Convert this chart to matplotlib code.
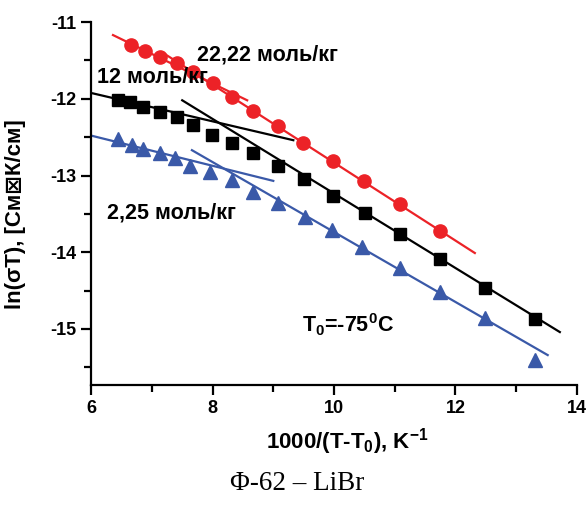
import matplotlib
matplotlib.use('Agg')
import matplotlib.pyplot as plt

plt.rcParams['font.family'] = ['Liberation Sans', 'DejaVu Sans']
plt.rcParams['axes.unicode_minus'] = False
plt.rcParams['mathtext.fontset'] = 'custom'
plt.rcParams['mathtext.rm'] = 'Liberation Sans:bold'
plt.rcParams['mathtext.it'] = 'Liberation Sans:bold'
plt.rcParams['mathtext.bf'] = 'Liberation Sans:bold'

# 22,22 mol/kg
x_red = [6.66, 6.89, 7.14, 7.42, 7.68, 8.01, 8.32, 8.67, 9.08, 9.49, 9.98, 10.49, 11.09, 11.74]
y_red = [-11.30, -11.38, -11.46, -11.53, -11.65, -11.79, -11.98, -12.16, -12.36, -12.58,
         -12.81, -13.07, -13.37, -13.72]

# 12 mol/kg
x_black = [6.44, 6.64, 6.86, 7.14, 7.42, 7.68, 7.99, 8.32, 8.67, 9.08, 9.51, 9.98,
           10.51, 11.09, 11.74, 12.49, 13.31]
y_black = [-12.02, -12.04, -12.11, -12.17, -12.24, -12.34, -12.47, -12.58, -12.71, -12.88,
           -13.05, -13.27, -13.49, -13.76, -14.09, -14.47, -14.87]

# 2,25 mol/kg
x_blue = [6.44, 6.67, 6.86, 7.14, 7.38, 7.63, 7.96, 8.32, 8.67, 9.08, 9.52, 9.97,
          10.46, 11.09, 11.74, 12.49, 13.31]
y_blue = [-12.52, -12.60, -12.65, -12.71, -12.77, -12.88, -12.95, -13.06, -13.21, -13.36,
          -13.54, -13.71, -13.93, -14.21, -14.52, -14.86, -15.40]

# fit lines: (x start, x end), (y start, y end)
red_fit_hi = ([6.36, 8.57], [-11.17, -12.02])
red_fit_lo = ([7.20, 12.32], [-11.41, -14.01])
black_fit_hi = ([6.03, 9.33], [-11.93, -12.54])
black_fit_lo = ([7.50, 13.72], [-12.02, -15.04])
blue_fit_hi = ([6.00, 9.00], [-12.48, -13.07])
blue_fit_lo = ([7.66, 13.52], [-12.67, -15.34])

red = '#ec2227'
blue = '#3a59a8'
black = 'black'

fig = plt.figure(figsize=(5.88, 5.05), dpi=100)
ax = fig.add_axes([0.155, 0.2376, 0.826, 0.7188])

for fx, fy in (red_fit_hi, red_fit_lo):
    ax.plot(fx, fy, color=red, lw=1.6)
for fx, fy in (black_fit_hi, black_fit_lo):
    ax.plot(fx, fy, color=black, lw=1.6)
for fx, fy in (blue_fit_hi, blue_fit_lo):
    ax.plot(fx, fy, color=blue, lw=1.6)

ax.plot(x_red, y_red, 'o', color=red, ms=9.5, mec=red, zorder=3)
ax.plot(x_black, y_black, 's', color=black, ms=8.5, zorder=3)
ax.plot(x_blue, y_blue, '^', color=blue, ms=10.5, zorder=3)

lab_kw = dict(fontsize=15.5, fontweight='bold', va='center', ha='left')
ax.text(7.74, -11.43, '22,22 моль/кг', **lab_kw)
ax.text(6.10, -11.72, '12 моль/кг', **lab_kw)
ax.text(6.26, -13.49, '2,25 моль/кг', **lab_kw)
ax.text(9.47, -14.95, r'T$_\mathbf{0}$=-75$^\mathbf{0}$C', **lab_kw)

ax.set_xlim(6, 14)
ax.set_ylim(-15.73, -11)
ax.set_xticks([6, 8, 10, 12, 14])
ax.set_xticks([7, 9, 11, 13], minor=True)
ax.set_yticks([-11, -12, -13, -14, -15])
ax.set_yticks([-11.5, -12.5, -13.5, -14.5, -15.5], minor=True)

for s in ('top', 'right'):
    ax.spines[s].set_visible(False)
for s in ('left', 'bottom'):
    ax.spines[s].set_linewidth(1.6)
ax.tick_params(which='major', direction='out', length=7, width=1.6, labelsize=13)
ax.tick_params(which='minor', direction='out', length=5, width=1.6)
for t in ax.get_xticklabels() + ax.get_yticklabels():
    t.set_fontweight('bold')

ax.set_xlabel(r'1000/(T-T$_\mathbf{0}$), K$^\mathbf{-1}$', fontsize=16, fontweight='bold')
ax.set_ylabel('ln(σT), [См⊠К/см]', fontsize=16, fontweight='bold')
ax.xaxis.set_label_coords(0.527, -0.112)
ax.yaxis.set_label_coords(-0.135, 0.47)

fig.text(0.505, 0.042, 'Φ-62 – LiBr', family=['Liberation Serif', 'DejaVu Serif'],
         fontsize=19.5, ha='center', va='center')

fig.savefig('out.png', dpi=100)
